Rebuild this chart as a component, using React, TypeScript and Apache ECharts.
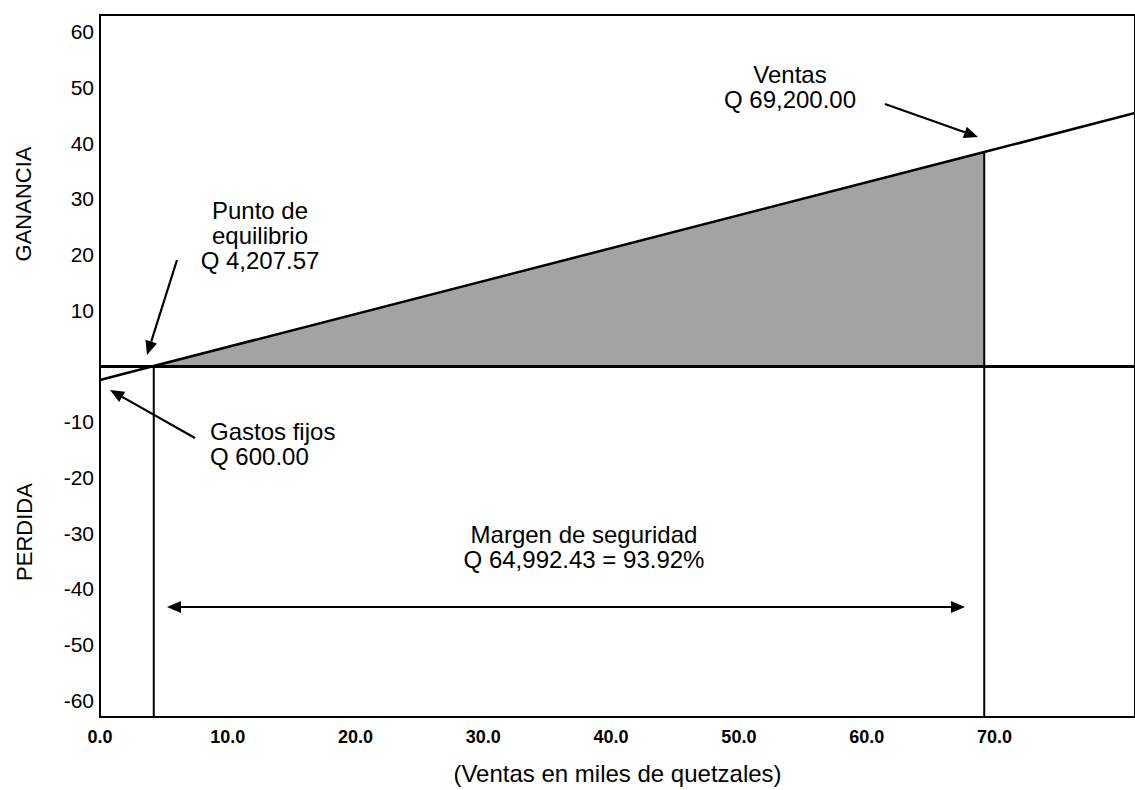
import React, { useEffect, useRef } from "react";
import * as echarts from "echarts";

// Sales (thousands of quetzales) and profit / loss line
const salesX = [0, 4.2076, 69.2, 81];
const profitY = [-2.5, 0, 38.4, 45.4];
const breakEvenX = 4.2076;
const salesPointX = 69.2;
const salesPointY = 38.4;
const yMin = -63;
const yMax = 63;
const xMin = 0;
const xMax = 81;
const xTickValues = [0, 10, 20, 30, 40, 50, 60, 70];
const yTickValues = [-60, -50, -40, -30, -20, -10, 10, 20, 30, 40, 50, 60];

const xAxisTitle = "(Ventas en miles de quetzales)";
const upperTitle = "GANANCIA";
const lowerTitle = "PERDIDA";
const breakEvenText = ["Punto de", "equilibrio", "Q 4,207.57"];
const salesText = ["Ventas", "Q 69,200.00"];
const fixedCostText = ["Gastos fijos", "Q 600.00"];
const marginText = ["Margen de seguridad", "Q 64,992.43 = 93.92%"];

const FONT = "'Liberation Sans', Arial, Helvetica, sans-serif";

function arrowHead(tx: number, ty: number, fx: number, fy: number, len = 14, half = 6) {
  const dx = tx - fx;
  const dy = ty - fy;
  const l = Math.sqrt(dx * dx + dy * dy);
  const ux = dx / l;
  const uy = dy / l;
  const bx = tx - ux * len;
  const by = ty - uy * len;
  const nx = -uy;
  const ny = ux;
  return {
    base: [bx, by],
    poly: {
      type: "polygon",
      shape: {
        points: [
          [tx, ty],
          [bx + nx * half, by + ny * half],
          [bx - nx * half, by - ny * half],
        ],
      },
      style: { fill: "#000" },
      z: 20,
    },
  };
}

function arrow(x1: number, y1: number, x2: number, y2: number) {
  const h = arrowHead(x2, y2, x1, y1);
  return [
    {
      type: "line",
      shape: { x1, y1, x2: h.base[0], y2: h.base[1] },
      style: { stroke: "#000", lineWidth: 2.2 },
      z: 20,
    },
    h.poly,
  ];
}

function doubleArrow(x1: number, x2: number, y: number) {
  const a = arrowHead(x1, y, x2, y);
  const b = arrowHead(x2, y, x1, y);
  return [
    {
      type: "line",
      shape: { x1: a.base[0], y1: y, x2: b.base[0], y2: y },
      style: { stroke: "#000", lineWidth: 2.2 },
      z: 20,
    },
    a.poly,
    b.poly,
  ];
}

function label(lines: string[], x: number, y: number, align: string = "center") {
  return {
    type: "text",
    x,
    y,
    z: 20,
    style: {
      text: lines.join("\n"),
      font: `24px ${FONT}`,
      fill: "#000",
      align,
      verticalAlign: "middle",
      lineHeight: 25,
    },
  };
}

export default function App() {
  const ref = useRef<HTMLDivElement>(null);

  useEffect(() => {
    if (!ref.current) return;
    const chart = echarts.init(ref.current, null, { renderer: "svg" });

    const lineData = salesX.map((x, i) => [x, profitY[i]]);
    const areaData = [
      [breakEvenX, 0],
      [salesPointX, salesPointY],
    ];

    chart.setOption({
      animation: false,
      backgroundColor: "#fff",
      textStyle: { fontFamily: FONT },
      grid: {
        left: 100,
        right: -5,
        top: 15,
        bottom: 59,
        show: true,
        borderColor: "#000",
        borderWidth: 2,
        backgroundColor: "transparent",
      },
      xAxis: {
        type: "value",
        min: xMin,
        max: xMax,
        interval: 10,
        axisLine: { show: true, onZero: false, lineStyle: { color: "#000", width: 2 } },
        axisTick: { show: false },
        splitLine: { show: false },
        axisLabel: {
          color: "#000",
          fontSize: 18,
          fontWeight: "bold",
          fontFamily: FONT,
          margin: 11,
          showMaxLabel: false,
          formatter: (v: number) => (xTickValues.indexOf(v) >= 0 ? v.toFixed(1) : ""),
        },
        name: xAxisTitle,
        nameLocation: "middle",
        nameGap: 44,
        nameTextStyle: { color: "#000", fontSize: 24, fontFamily: FONT },
      },
      yAxis: {
        type: "value",
        min: yMin,
        max: yMax,
        axisLine: { show: true, onZero: false, lineStyle: { color: "#000", width: 2 } },
        axisTick: { show: false },
        splitLine: { show: false },
        axisLabel: {
          color: "#000",
          fontSize: 21,
          fontFamily: FONT,
          margin: 6,
          customValues: yTickValues,
        },
      },
      series: [
        {
          type: "line",
          data: areaData,
          symbol: "none",
          lineStyle: { width: 0 },
          areaStyle: { color: "#a3a3a3", opacity: 1 },
          z: 1,
          silent: true,
        },
        {
          type: "line",
          data: lineData,
          symbol: "none",
          lineStyle: { color: "#000", width: 2.5 },
          z: 5,
          silent: true,
          markLine: {
            silent: true,
            symbol: "none",
            label: { show: false },
            lineStyle: { color: "#000", width: 3, type: "solid" },
            data: [{ yAxis: 0 }],
          },
        },
        {
          type: "line",
          data: [
            [breakEvenX, 0],
            [breakEvenX, yMin],
          ],
          symbol: "none",
          lineStyle: { color: "#000", width: 2 },
          z: 4,
          silent: true,
        },
        {
          type: "line",
          data: [
            [salesPointX, salesPointY],
            [salesPointX, yMin],
          ],
          symbol: "none",
          lineStyle: { color: "#000", width: 2 },
          z: 4,
          silent: true,
        },
      ],
      graphic: [
        {
          type: "text",
          x: 23,
          y: 204,
          rotation: Math.PI / 2,
          style: {
            text: upperTitle,
            font: `22px ${FONT}`,
            fill: "#000",
            align: "center",
            verticalAlign: "middle",
          },
        },
        {
          type: "text",
          x: 24,
          y: 532,
          rotation: Math.PI / 2,
          style: {
            text: lowerTitle,
            font: `22px ${FONT}`,
            fill: "#000",
            align: "center",
            verticalAlign: "middle",
          },
        },
        label(breakEvenText, 260, 235),
        label(salesText, 790, 87),
        label(fixedCostText, 210, 444, "left"),
        label(marginText, 584, 547),
        ...arrow(177, 260, 147, 355),
        ...arrow(885, 104, 978, 137),
        ...arrow(195, 438, 110, 390),
        ...doubleArrow(167, 965, 607),
      ],
    });

    return () => chart.dispose();
  }, []);

  return (
    <div
      ref={ref}
      style={{ position: "fixed", left: 0, top: 0, width: 1135, height: 790, background: "#fff" }}
    />
  );
}
